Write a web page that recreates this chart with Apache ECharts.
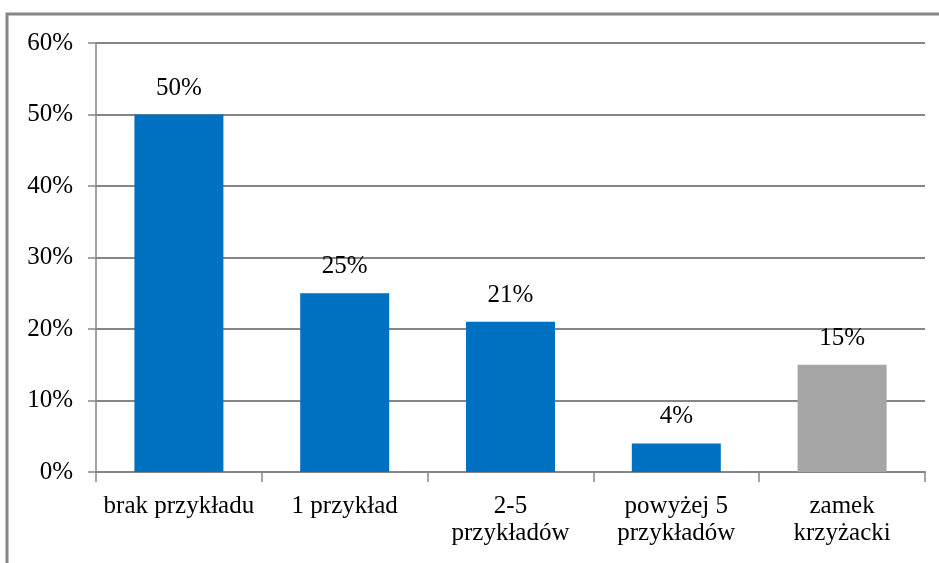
<!DOCTYPE html>
<html>
<head>
<meta charset="utf-8">
<script src="https://cdn.jsdelivr.net/npm/echarts@6/dist/echarts.min.js"></script>
<style>
  html, body { margin: 0; padding: 0; background: #fff; }
  #chart { width: 939px; height: 563px; }
</style>
</head>
<body>
<div id="chart"></div>
<script>
// Categories (x axis) and their percentage shares
const categories = ['brak przykładu', '1 przykład', '2-5\nprzykładów', 'powyżej 5\nprzykładów', 'zamek\nkrzyżacki'];
const shares = [50, 25, 21, 4, 15];
const yTicks = { min: 0, max: 60, step: 10 };

const BLUE = '#0070C0';
const GREY = '#A5A5A5';
const LINE = '#868686';
const FONT = '"Liberation Serif", "Times New Roman", serif';

const chart = echarts.init(document.getElementById('chart'));
chart.setOption({
  animation: false,
  backgroundColor: '#fff',
  graphic: [{
    type: 'rect',
    shape: { x: 7, y: 14, width: 1200, height: 1000 },
    style: { fill: 'none', stroke: '#878787', lineWidth: 3 },
    silent: true
  }],
  grid: { left: 96, right: 14, top: 43, bottom: 91 },
  xAxis: {
    type: 'category',
    data: categories,
    boundaryGap: true,
    axisLine: { lineStyle: { color: LINE, width: 2 } },
    axisTick: { show: true, length: 10, lineStyle: { color: LINE, width: 1.5 } },
    axisLabel: {
      color: '#000', fontFamily: FONT, fontSize: 25, lineHeight: 27, margin: 21,
      interval: 0
    }
  },
  yAxis: {
    type: 'value',
    min: yTicks.min, max: yTicks.max, interval: yTicks.step,
    axisLine: { show: true, lineStyle: { color: LINE, width: 1.5 } },
    axisTick: { show: true, length: 8, lineStyle: { color: LINE, width: 1.5 } },
    splitLine: { lineStyle: { color: LINE, width: 2 } },
    axisLabel: {
      color: '#000', fontFamily: FONT, fontSize: 25, margin: 23,
      formatter: '{value}%'
    }
  },
  series: [{
    type: 'bar',
    data: shares.map((v, i) => ({
      value: v,
      itemStyle: { color: i === shares.length - 1 ? GREY : BLUE }
    })),
    barWidth: 89,
    label: {
      show: true, position: 'top', distance: 14,
      color: '#000', fontFamily: FONT, fontSize: 25,
      formatter: '{c}%'
    }
  }]
});
</script>
</body>
</html>
